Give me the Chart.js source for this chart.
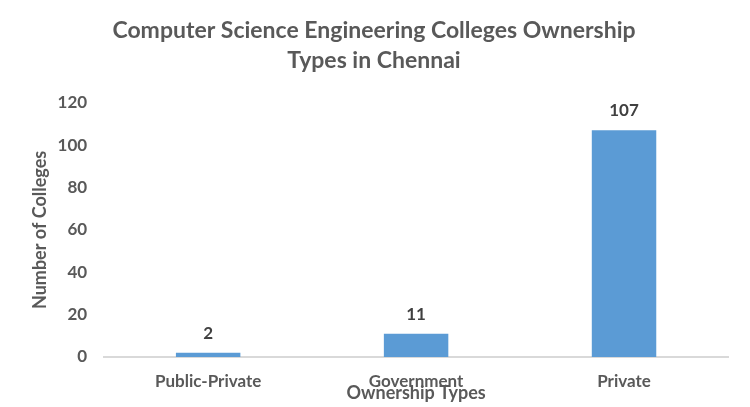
<!DOCTYPE html>
<html>
<head>
<meta charset="utf-8">
<script src="https://cdn.jsdelivr.net/npm/chart.js@4/dist/chart.umd.min.js"></script>
<style>
  html, body { margin: 0; padding: 0; background: #fff; }
  #wrap { width: 750px; height: 407px; }
</style>
</head>
<body>
<div id="wrap"><canvas id="ownership" width="750" height="407"></canvas></div>
<script>
const categories = ['Public-Private', 'Government', 'Private'];
const colleges = [2, 11, 107];
const yTicks = [0, 20, 40, 60, 80, 100, 120];

const grey = '#595959';
const fontFamily = 'Lato, "Open Sans", sans-serif';

// draws the number above each bar
const barLabels = {
  id: 'barLabels',
  afterDatasetsDraw(chart) {
    const { ctx } = chart;
    const meta = chart.getDatasetMeta(0);
    ctx.save();
    ctx.font = 'bold 17px ' + fontFamily;
    ctx.fillStyle = '#404040';
    ctx.textAlign = 'center';
    ctx.textBaseline = 'bottom';
    meta.data.forEach((bar, i) => {
      ctx.fillText(colleges[i], bar.x, bar.y - 11);
    });
    ctx.restore();
  },
};

const ctx = document.getElementById('ownership');
new Chart(ctx, {
  type: 'bar',
  data: {
    labels: categories,
    datasets: [
      {
        label: 'Number of Colleges',
        data: colleges,
        backgroundColor: '#5b9bd5',
        categoryPercentage: 1,
        barPercentage: 0.31,
      },
    ],
  },
  options: {
    responsive: false,
    animation: false,
    layout: { padding: { left: 20, right: 22, top: 16, bottom: 0 } },
    plugins: {
      legend: { display: false },
      tooltip: { enabled: false },
      title: {
        display: true,
        text: ['Computer Science Engineering Colleges Ownership', 'Types in Chennai'],
        color: grey,
        font: { family: fontFamily, size: 23, weight: 'bold', lineHeight: 1.3 },
        padding: { top: 0, bottom: 27 },
      },
    },
    scales: {
      x: {
        grid: { display: false, drawTicks: false },
        border: { display: true, color: '#d9d9d9', width: 2 },
        ticks: {
          color: grey,
          font: { family: fontFamily, size: 17, weight: 'bold' },
          padding: 14,
        },
        title: {
          display: true,
          text: 'Ownership Types',
          color: grey,
          font: { family: fontFamily, size: 18, weight: 'bold' },
          padding: { top: -23, bottom: 3 },
        },
      },
      y: {
        min: 0,
        max: 120,
        afterBuildTicks(axis) {
          axis.ticks = yTicks.map((v) => ({ value: v }));
        },
        grid: { display: false, drawTicks: false },
        border: { display: false },
        ticks: {
          color: grey,
          font: { family: fontFamily, size: 17, weight: 'bold' },
          padding: 17,
        },
        title: {
          display: true,
          text: 'Number of Colleges',
          color: grey,
          font: { family: fontFamily, size: 18, weight: 'bold' },
          padding: { top: 9, bottom: -10 },
        },
      },
    },
  },
  plugins: [barLabels],
});
</script>
</body>
</html>
